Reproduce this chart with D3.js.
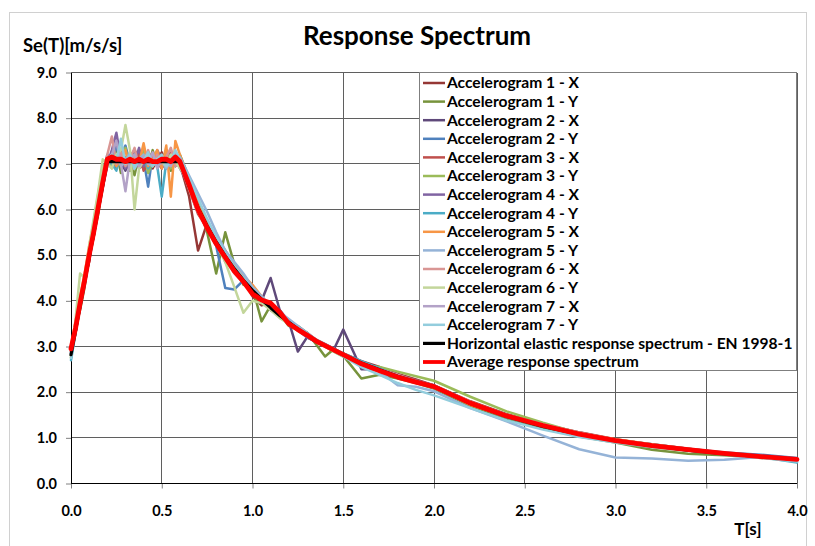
<!DOCTYPE html>
<html><head><meta charset="utf-8">
<script src="https://cdn.jsdelivr.net/npm/d3@7"></script>
<style>
body{margin:0;background:#fff}
svg{display:block}
text{font-family:Lato,"Open Sans",sans-serif;font-weight:bold;fill:#000}
</style>
</head><body>
<svg id="chart" width="815" height="546"></svg>
<script>
// ---- data ----
const periods = [0,0.025,0.05,0.075,0.1,0.125,0.15,0.175,0.2,0.225,0.25,0.275,0.3,0.325,0.35,0.375,0.4,0.425,0.45,0.475,0.5,0.525,0.55,0.575,0.6,0.65,0.7,0.75,0.8,0.85,0.9,0.95,1.0,1.05,1.1,1.15,1.2,1.25,1.3,1.35,1.4,1.45,1.5,1.6,1.7,1.8,1.9,2.0,2.2,2.4,2.6,2.8,3.0,3.2,3.4,3.6,3.8,4.0];

const ec8 = [2.82,3.35,3.88,4.41,4.94,5.46,5.99,6.52,7.05,7.05,7.05,7.05,7.05,7.05,7.05,7.05,7.05,7.05,7.05,7.05,7.05,7.05,7.05,7.05,7.05,6.51,6.04,5.64,5.29,4.98,4.70,4.45,4.23,4.03,3.85,3.68,3.53,3.38,3.25,3.13,3.02,2.92,2.82,2.64,2.49,2.35,2.23,2.12,1.75,1.47,1.25,1.08,0.94,0.83,0.73,0.65,0.59,0.53];
const average = [2.95,3.4,3.95,4.45,5.0,5.5,6.05,6.6,7.1,7.15,7.1,7.1,7.05,7.1,7.05,7.1,7.05,7.1,7.05,7.05,7.1,7.1,7.05,7.15,7.05,6.55,6.0,5.6,5.25,4.95,4.65,4.42,4.15,4.02,3.95,3.75,3.5,3.37,3.25,3.12,3.02,2.92,2.82,2.62,2.47,2.33,2.22,2.12,1.76,1.48,1.27,1.08,0.94,0.83,0.74,0.66,0.59,0.53];

const acc1X = [2.9,3.3,3.95,4.5,4.85,5.6,6.1,6.7,7.0,7.25,6.9,7.2,7.0,6.85,7.3,7.1,6.95,7.2,6.9,7.1,7.25,6.95,7.2,7.05,7.0,6.3,5.1,5.7,5.4,4.9,4.8,4.5,4.1,3.9,3.95,3.75,3.5,3.35,3.3,3.15,3.05,2.9,2.85,2.68,2.55,2.4,2.28,2.15,1.8,1.52,1.3,1.12,0.97,0.85,0.74,0.66,0.6,0.54];
const acc1Y = [2.75,3.45,3.8,4.3,5.05,5.4,6.2,6.9,7.1,6.95,7.3,6.8,7.15,7.0,6.75,7.2,7.05,6.9,7.3,6.95,7.0,7.2,6.85,7.1,7.2,6.7,6.1,5.5,4.6,5.5,4.8,4.35,4.3,3.55,3.9,3.7,3.45,3.45,3.3,3.05,2.78,2.95,2.8,2.3,2.38,2.3,2.2,2.08,1.7,1.42,1.22,1.03,0.9,0.74,0.65,0.62,0.57,0.5];
const acc2X = [3.0,3.4,3.9,4.35,5.0,5.5,5.95,6.6,6.95,7.2,7.45,7.05,6.85,7.15,7.3,6.9,7.0,7.25,7.1,6.95,7.05,7.3,7.1,6.95,7.1,6.6,6.0,5.75,5.35,5.1,4.7,4.4,4.2,4.0,4.5,3.8,3.55,2.89,3.2,3.1,3.05,2.95,3.37,2.5,2.5,2.38,2.25,2.14,1.78,1.5,1.28,1.1,0.96,0.86,0.76,0.67,0.6,0.55];
const acc2Y = [2.85,3.3,4.0,4.5,4.9,5.55,6.0,6.8,7.2,7.1,7.35,7.15,7.4,7.0,7.2,6.95,7.1,6.5,7.2,7.05,6.9,7.15,7.0,7.25,7.1,6.55,6.05,5.6,5.2,4.28,4.25,4.45,4.2,4.1,3.85,3.7,3.55,3.4,3.28,3.15,3.0,2.9,2.8,2.62,2.5,2.36,2.24,2.13,1.74,1.46,1.26,1.1,0.95,0.86,0.76,0.68,0.63,0.56];
const acc3X = [2.9,3.4,3.85,4.45,5.0,5.4,6.05,6.5,7.0,7.15,6.95,7.3,7.1,6.9,7.05,7.25,6.85,7.0,7.2,7.05,6.9,7.1,7.3,7.0,6.95,6.45,5.9,5.6,5.35,5.05,4.75,4.4,4.3,4.05,3.8,3.65,3.5,3.4,3.22,3.1,3.0,2.9,2.8,2.66,2.52,2.38,2.26,2.14,1.78,1.5,1.3,1.12,0.96,0.84,0.73,0.64,0.57,0.52];
const acc3Y = [2.8,3.3,3.9,4.4,4.95,5.45,5.9,6.6,7.15,6.9,7.2,7.0,7.35,6.85,7.1,7.0,7.3,6.8,7.05,7.15,6.95,7.25,6.9,7.1,7.0,6.6,6.15,5.7,5.3,5.0,4.65,4.5,4.25,4.0,3.9,3.7,3.5,3.42,3.3,3.1,3.0,2.88,2.78,2.6,2.55,2.45,2.35,2.25,1.9,1.58,1.33,1.1,0.92,0.8,0.72,0.64,0.58,0.5];
const acc4X = [2.95,3.45,3.9,4.4,5.1,5.5,6.1,6.6,7.0,7.3,7.68,7.1,6.9,7.2,7.05,7.35,6.95,7.15,7.0,7.3,7.1,6.9,7.15,7.2,6.9,6.55,5.95,5.75,5.4,4.85,4.75,4.5,4.15,4.1,3.8,3.72,3.55,3.35,3.2,3.12,3.04,2.95,2.84,2.67,2.5,2.37,2.25,2.15,1.78,1.49,1.27,1.09,0.95,0.84,0.74,0.66,0.6,0.54];
const acc4Y = [2.7,3.3,3.95,4.5,5.0,5.45,6.0,6.55,7.1,7.0,6.85,7.25,7.1,6.95,7.2,7.0,7.15,6.9,7.1,6.95,6.28,7.05,7.2,6.95,7.1,6.5,6.1,5.65,5.25,5.0,4.72,4.5,4.22,4.0,3.86,3.7,3.5,3.36,3.25,3.14,3.04,2.95,2.85,2.68,2.52,2.36,2.22,2.1,1.74,1.45,1.24,1.06,0.93,0.83,0.74,0.66,0.58,0.46];
const acc5X = [3.0,3.55,4.1,4.6,5.2,5.7,6.35,6.9,7.05,7.2,6.95,7.1,7.3,6.9,7.15,7.0,7.45,6.95,7.1,7.3,6.9,7.4,6.28,7.5,7.2,6.6,6.1,5.7,5.4,5.1,4.8,4.55,4.35,4.1,3.85,3.75,3.48,3.35,3.24,3.12,3.0,2.9,2.8,2.62,2.48,2.35,2.24,2.12,1.72,1.47,1.28,1.1,0.97,0.86,0.76,0.66,0.56,0.5];
const acc5Y = [2.85,3.4,3.9,4.35,4.9,5.5,6.1,6.6,7.0,7.1,7.2,6.95,7.05,7.25,6.9,7.1,7.2,7.0,6.95,7.15,7.05,6.9,7.1,7.0,7.15,6.75,6.35,5.95,5.5,5.1,4.85,4.6,4.3,4.1,3.9,3.75,3.6,3.45,3.3,3.15,3.05,2.95,2.8,2.6,2.45,2.15,2.12,2.02,1.65,1.36,1.05,0.75,0.57,0.55,0.5,0.52,0.58,0.5];
const acc6X = [2.9,3.35,3.85,4.5,5.05,5.55,6.05,6.75,7.2,7.6,7.0,7.25,6.95,7.1,7.35,6.9,7.05,7.3,6.95,7.2,7.0,7.15,7.35,6.95,7.05,6.45,5.95,5.55,5.3,4.9,4.6,4.4,4.15,4.05,3.9,3.65,3.5,3.4,3.27,3.15,3.02,2.93,2.83,2.65,2.5,2.38,2.24,2.14,1.79,1.5,1.3,1.12,0.96,0.85,0.75,0.67,0.6,0.54];
const acc6Y = [2.8,3.6,4.6,4.5,5.2,5.8,6.4,7.1,7.0,6.9,7.2,7.3,7.85,7.3,6.0,6.9,7.1,7.2,6.95,7.1,7.05,6.95,7.2,7.05,6.9,6.6,6.0,5.6,5.25,4.85,4.3,3.74,4.0,3.95,3.8,3.62,3.5,3.36,3.24,3.12,3.0,2.9,2.8,2.64,2.48,2.34,2.22,2.1,1.74,1.46,1.25,1.08,0.93,0.82,0.72,0.65,0.58,0.52];
const acc7X = [2.95,3.4,3.95,4.4,4.95,5.5,6.0,6.5,6.95,7.2,7.5,7.0,6.4,7.1,7.2,6.95,7.15,7.0,7.25,6.9,7.1,7.0,6.95,7.2,7.0,6.5,5.95,5.65,5.35,5.0,4.75,4.5,4.25,4.05,3.9,3.7,3.55,3.38,3.26,3.14,3.02,2.92,2.83,2.64,2.5,2.36,2.24,2.13,1.77,1.48,1.26,1.09,0.95,0.84,0.74,0.66,0.6,0.53];
const acc7Y = [2.75,3.3,3.85,4.35,4.95,5.45,5.95,6.55,7.1,7.2,7.05,7.55,7.0,7.2,6.9,7.1,7.05,7.25,6.95,7.1,7.2,6.95,7.05,7.3,7.1,6.7,6.25,5.8,5.4,5.05,4.75,4.5,4.25,4.0,3.88,3.7,3.52,3.37,3.24,3.12,3.0,2.9,2.78,2.55,2.38,2.2,2.05,1.93,1.65,1.38,1.18,1.02,0.9,0.8,0.72,0.64,0.56,0.48];

const accNames = ["Accelerogram 1 - X","Accelerogram 1 - Y","Accelerogram 2 - X","Accelerogram 2 - Y","Accelerogram 3 - X","Accelerogram 3 - Y","Accelerogram 4 - X","Accelerogram 4 - Y","Accelerogram 5 - X","Accelerogram 5 - Y","Accelerogram 6 - X","Accelerogram 6 - Y","Accelerogram 7 - X","Accelerogram 7 - Y"];
const accValues = [acc1X,acc1Y,acc2X,acc2Y,acc3X,acc3Y,acc4X,acc4Y,acc5X,acc5Y,acc6X,acc6Y,acc7X,acc7Y];
const accColors = ["#953735","#77933C","#5F497A","#4F81BD","#C0504D","#9BBB59","#8064A2","#4BACC6","#F79646","#95B3D7","#D99694","#C3D69B","#B3A2C7","#93CDDD"];
const ec8Name = "Horizontal elastic response spectrum - EN 1998-1";
const avgName = "Average response spectrum";
const xTicks = [0,0.5,1.0,1.5,2.0,2.5,3.0,3.5,4.0];
const yTicks = [0,1,2,3,4,5,6,7,8,9];
const titleText = "Response Spectrum";
const yLabel = "Se(T)[m/s/s]";
const xLabel = "T[s]";

// ---- drawing ----
const svg = d3.select("#chart");
const x = d3.scaleLinear().domain([0,4]).range([71,797]);
const y = d3.scaleLinear().domain([0,9]).range([483.5,72.5]);

svg.append("rect").attr("x",9.5).attr("y",12.5).attr("width",797).attr("height",545)
  .attr("fill","#fff").attr("stroke","#d0d0d0");

// gridlines
const grid = svg.append("g").attr("stroke","#5f5f5f").attr("stroke-width",1).attr("shape-rendering","crispEdges");
grid.selectAll(".gx").data(xTicks.slice(1)).join("line")
  .attr("x1",d=>x(d)).attr("x2",d=>x(d)).attr("y1",y(0)).attr("y2",y(9));
grid.selectAll(".gy").data(yTicks.slice(1)).join("line")
  .attr("x1",x(0)).attr("x2",x(4)).attr("y1",d=>y(d)).attr("y2",d=>y(d));

// axes
const yAxis = svg.append("g").attr("transform",`translate(${x(0)},0)`)
  .call(d3.axisLeft(y).tickValues(yTicks).tickFormat(d3.format(".1f")).tickSize(5).tickPadding(9));
const xAxis = svg.append("g").attr("transform",`translate(0,${y(0)})`)
  .call(d3.axisBottom(x).tickValues(xTicks).tickFormat(d3.format(".1f")).tickSize(5).tickPadding(17));
[yAxis,xAxis].forEach(a=>{
  a.select(".domain").remove();
  a.selectAll(".tick line").attr("stroke","#808080");
  a.selectAll("text").style("font-size","14.5px").style("font-family","Lato").style("font-weight","bold").attr("fill","#000");
});
svg.append("line").attr("x1",x(0)).attr("x2",x(0)).attr("y1",y(0)).attr("y2",y(9)).attr("stroke","#000").attr("shape-rendering","crispEdges");
svg.append("line").attr("x1",x(0)).attr("x2",x(4)).attr("y1",y(0)).attr("y2",y(0)).attr("stroke","#000").attr("shape-rendering","crispEdges");

// series
const line = d3.line().x((d,i)=>x(periods[i])).y(d=>y(d));
const plot = svg.append("g").attr("fill","none").attr("stroke-linejoin","round").attr("stroke-linecap","round");
accValues.forEach((vals,k)=>{
  plot.append("path").attr("d",line(vals)).attr("stroke",accColors[k]).attr("stroke-width",2.5);
});
plot.append("path").attr("d",line(ec8)).attr("stroke","#000").attr("stroke-width",3.2);
plot.append("path").attr("d",line(average)).attr("stroke","#ff0000").attr("stroke-width",4.8);

// titles
svg.append("text").attr("x",417).attr("y",45).attr("text-anchor","middle").style("font-size","26px").text(titleText);
svg.append("text").attr("x",23).attr("y",52).style("font-size","18.5px").text(yLabel);
svg.append("text").attr("x",748).attr("y",535).attr("text-anchor","middle").style("font-size","17px").text(xLabel);

// legend
const legItems = accNames.map((n,i)=>({name:n,color:accColors[i],w:2.5}))
  .concat([{name:ec8Name,color:"#000",w:3.2},{name:avgName,color:"#ff0000",w:3.8}]);
const leg = svg.append("g");
leg.append("rect").attr("x",419.5).attr("y",72.5).attr("width",377).attr("height",298)
  .attr("fill","#fff").attr("stroke","#7f7f7f");
const rows = leg.selectAll(".row").data(legItems).join("g")
  .attr("transform",(d,i)=>`translate(0,${83+i*18.6})`);
rows.append("line").attr("x1",423).attr("x2",445).attr("stroke",d=>d.color).attr("stroke-width",d=>d.w);
rows.append("text").attr("x",447).attr("dy","0.35em").style("font-size","15.6px").text(d=>d.name);
</script>
</body></html>
